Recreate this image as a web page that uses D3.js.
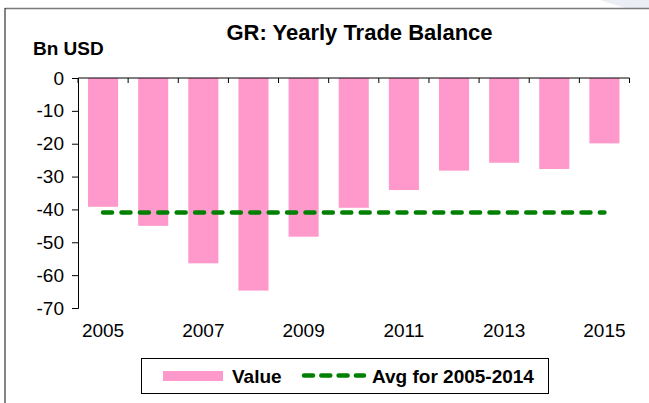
<!DOCTYPE html>
<html>
<head>
<meta charset="utf-8">
<script src="https://cdn.jsdelivr.net/npm/d3@7"></script>
<style>
  html, body { margin: 0; padding: 0; background: #fff; }
  svg { display: block; font-family: "Liberation Sans", Arial, sans-serif; }
</style>
</head>
<body>
<svg id="chart" width="649" height="403"></svg>
<script>
// ---- data ----
const years = ["2005","2006","2007","2008","2009","2010","2011","2012","2013","2014","2015"];
const values = [-39.2, -45.0, -56.4, -64.7, -48.3, -39.5, -34.1, -28.2, -25.8, -27.7, -19.9];
const avgValues = [-40.9, -40.9, -40.9, -40.9, -40.9, -40.9, -40.9, -40.9, -40.9, -40.9, -40.9];
const yTicks = [0, -10, -20, -30, -40, -50, -60, -70];
const xTickLabels = ["2005","2007","2009","2011","2013","2015"];
const titleText = "GR: Yearly Trade Balance";
const unitText = "Bn USD";
const legendLabels = ["Value", "Avg for 2005-2014"];

const pink = "#FF99CC", green = "#008000";

const svg = d3.select("#chart");

// frame decorations
svg.append("path").attr("d", "M600,0 L649,0 L649,8 L625,8 Z").attr("fill", "#eceef5");
svg.append("line").attr("x1", 5).attr("x2", 649).attr("y1", 8.5).attr("y2", 8.5)
  .attr("stroke", "#7a7a7a").attr("stroke-width", 1.5);
svg.append("line").attr("x1", 5).attr("x2", 5).attr("y1", 8).attr("y2", 403)
  .attr("stroke", "#333").attr("stroke-width", 1.2);

const plot = { left: 78, right: 629.5, top: 78, bottom: 308 };

const x = d3.scaleBand().domain(years).range([plot.left, plot.right])
  .paddingInner(0.4).paddingOuter(0.2);
const y = d3.scaleLinear().domain([-70, 0]).range([plot.bottom, plot.top]);

// bars
svg.append("g").selectAll("rect").data(years).join("rect")
  .attr("x", (d) => x(d))
  .attr("width", x.bandwidth())
  .attr("y", y(0))
  .attr("height", (d, i) => y(values[i]) - y(0))
  .attr("fill", pink);

// average line
const line = d3.line()
  .x((d, i) => x(years[i]) + x.bandwidth() / 2)
  .y((d) => y(d));
svg.append("path").datum(avgValues).attr("d", line)
  .attr("fill", "none").attr("stroke", green).attr("stroke-width", 4.5)
  .attr("stroke-linecap", "round").attr("stroke-dasharray", "9 9.4");

// y axis
const yAxis = d3.axisLeft(y).tickValues(yTicks).tickSize(6).tickPadding(8)
  .tickFormat((d) => String(d));
const gy = svg.append("g").attr("transform", `translate(${plot.left},0)`).call(yAxis);
gy.select(".domain").attr("stroke", "#000").attr("stroke-width", 1);
gy.selectAll(".tick line").attr("stroke", "#000");
gy.selectAll(".tick text").attr("font-size", 19).attr("fill", "#000")
  .attr("font-family", "Liberation Sans, Arial, sans-serif");

// x axis line at zero with ticks at category boundaries
const step = x.step();
const boundaries = d3.range(years.length + 1).map((i) => plot.left + i * step);
const gx = svg.append("g");
gx.append("line").attr("x1", plot.left).attr("x2", plot.right)
  .attr("y1", y(0)).attr("y2", y(0)).attr("stroke", "#000").attr("stroke-width", 1);
gx.selectAll("line.tk").data(boundaries).join("line").attr("class", "tk")
  .attr("x1", (d) => d).attr("x2", (d) => d)
  .attr("y1", y(0)).attr("y2", y(0) + 5).attr("stroke", "#000");

// x labels at bottom
svg.append("g").selectAll("text").data(xTickLabels).join("text")
  .attr("x", (d) => x(d) + x.bandwidth() / 2)
  .attr("y", 337)
  .attr("text-anchor", "middle")
  .attr("font-size", 19)
  .text((d) => d);

// title and unit
svg.append("text").attr("x", 359.5).attr("y", 40).attr("text-anchor", "middle")
  .attr("font-size", 22).attr("font-weight", "bold").text(titleText);
svg.append("text").attr("x", 33).attr("y", 55)
  .attr("font-size", 19).attr("font-weight", "bold").text(unitText);

// legend
const lg = svg.append("g");
lg.append("rect").attr("x", 141.5).attr("y", 358.5).attr("width", 407).attr("height", 35)
  .attr("fill", "#fff").attr("stroke", "#000").attr("stroke-width", 1);
lg.append("rect").attr("x", 163).attr("y", 371).attr("width", 60).attr("height", 10).attr("fill", pink);
lg.append("text").attr("x", 232).attr("y", 383).attr("font-size", 19).attr("font-weight", "bold")
  .text(legendLabels[0]);
lg.append("line").attr("x1", 304).attr("x2", 364).attr("y1", 375.5).attr("y2", 375.5)
  .attr("stroke", green).attr("stroke-width", 4.5).attr("stroke-linecap", "round")
  .attr("stroke-dasharray", "9 8.3");
lg.append("text").attr("x", 372).attr("y", 383).attr("font-size", 19).attr("font-weight", "bold")
  .text(legendLabels[1]);
</script>
</body>
</html>
